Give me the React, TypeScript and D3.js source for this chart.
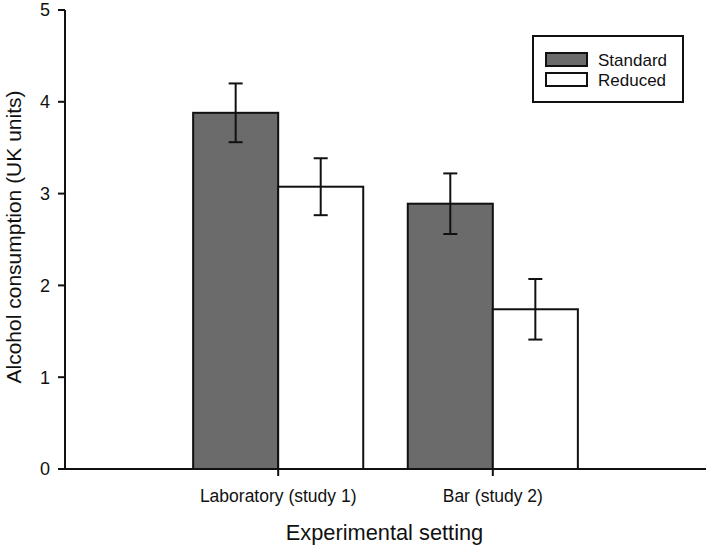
import React from "react";
import * as d3 from "d3";

const categories = ["Laboratory (study 1)", "Bar (study 2)"];
const seriesNames = ["Standard", "Reduced"];
const standardValues = [3.88, 2.89];
const reducedValues = [3.075, 1.74];
const standardErrors = [0.32, 0.33];
const reducedErrors = [0.31, 0.33];
const yTicks = [0, 1, 2, 3, 4, 5];

const colors: Record<string, string> = { Standard: "#6b6b6b", Reduced: "#ffffff" };
const FONT = "'Liberation Sans', Arial, Helvetica, sans-serif";

export default function App() {
  const W = 709;
  const H = 547;
  const x0 = 65;
  const x1 = 706;
  const y = d3.scaleLinear().domain([0, 5]).range([469, 10]);
  const xb = d3
    .scaleBand<string>()
    .domain(categories)
    .range([x0, x1])
    .paddingInner(0.2075)
    .paddingOuter(0.597)
    .align(0.5);
  const xs = d3.scaleBand<string>().domain(seriesNames).range([0, xb.bandwidth()]).padding(0);

  const data = categories.map((c, i) => ({
    cat: c,
    series: [
      { name: "Standard", v: standardValues[i], e: standardErrors[i] },
      { name: "Reduced", v: reducedValues[i], e: reducedErrors[i] },
    ],
  }));

  const sw = 2;
  const cap = 7;
  const ink = "#111";

  return (
    <svg
      width={W}
      height={H}
      style={{ position: "absolute", left: 0, top: 0, display: "block", background: "#fff" }}
      fontFamily={FONT}
    >
      <rect x={0} y={0} width={W} height={H} fill="#fff" />
      {data.map((g) => (
        <g key={g.cat} transform={`translate(${xb(g.cat)},0)`}>
          {g.series.map((s) => (
            <rect
              key={s.name}
              x={xs(s.name)}
              y={y(s.v)}
              width={xs.bandwidth()}
              height={y(0) - y(s.v)}
              fill={colors[s.name]}
              stroke={ink}
              strokeWidth={sw}
            />
          ))}
        </g>
      ))}
      {data.map((g) => (
        <g key={g.cat + "e"} transform={`translate(${xb(g.cat)},0)`}>
          {g.series.map((s) => {
            const cx = (xs(s.name) as number) + xs.bandwidth() / 2;
            return (
              <g key={s.name} stroke={ink} strokeWidth={sw}>
                <line x1={cx} x2={cx} y1={y(s.v + s.e)} y2={y(s.v - s.e)} />
                <line x1={cx - cap} x2={cx + cap} y1={y(s.v + s.e)} y2={y(s.v + s.e)} />
                <line x1={cx - cap} x2={cx + cap} y1={y(s.v - s.e)} y2={y(s.v - s.e)} />
              </g>
            );
          })}
        </g>
      ))}
      <line x1={x0} x2={x0} y1={y(5)} y2={y(0)} stroke={ink} strokeWidth={sw} />
      {yTicks.map((t) => (
        <g key={t}>
          <line x1={x0 - 7} x2={x0} y1={y(t)} y2={y(t)} stroke={ink} strokeWidth={sw} />
          <text x={50} y={y(t)} dy="0.36em" textAnchor="end" fontSize={18} fill={ink}>
            {t}
          </text>
        </g>
      ))}
      <line x1={x0 - 7} x2={x1} y1={y(0)} y2={y(0)} stroke={ink} strokeWidth={sw} />
      {categories.map((c) => {
        const cx = (xb(c) as number) + xb.bandwidth() / 2;
        return (
          <g key={c}>
            <line x1={cx} x2={cx} y1={y(0)} y2={y(0) + 7} stroke={ink} strokeWidth={sw} />
            <text x={cx} y={502} textAnchor="middle" fontSize={17.5} fill={ink}>
              {c}
            </text>
          </g>
        );
      })}
      <text x={(x0 + x1) / 2 - 1} y={540} textAnchor="middle" fontSize={21.8} fill={ink}>
        Experimental setting
      </text>
      <text
        transform={`translate(21,${237}) rotate(-90)`}
        textAnchor="middle"
        fontSize={21}
        fill={ink}
      >
        Alcohol consumption (UK units)
      </text>
      <rect x={533} y={36} width={150} height={66} fill="#fff" stroke={ink} strokeWidth={sw} />
      {seriesNames.map((n, i) => (
        <g key={n}>
          <rect
            x={546}
            y={53 + i * 20}
            width={41}
            height={13}
            fill={colors[n]}
            stroke={ink}
            strokeWidth={sw}
          />
          <text x={598} y={65.5 + i * 20} fontSize={17} fill={ink}>
            {n}
          </text>
        </g>
      ))}
    </svg>
  );
}
